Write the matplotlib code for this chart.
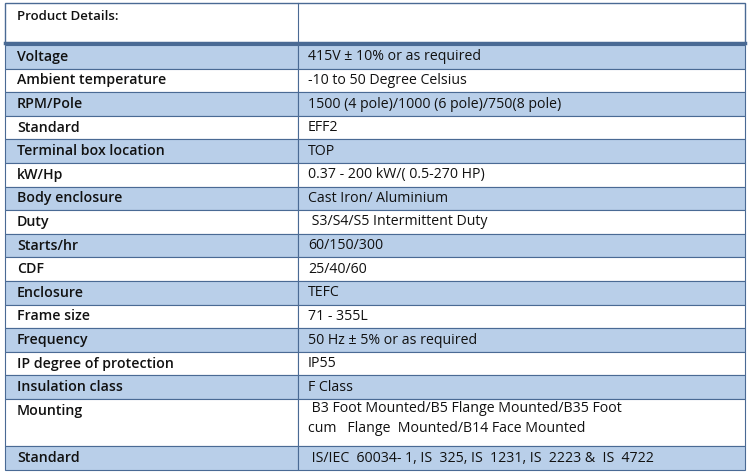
import matplotlib.pyplot as plt
from matplotlib.patches import Rectangle

header = "Product Details:"
labels = ["Voltage", "Ambient temperature", "RPM/Pole", "Standard", "Terminal box location",
          "kW/Hp", "Body enclosure", "Duty", "Starts/hr", "CDF", "Enclosure", "Frame size",
          "Frequency", "IP degree of protection", "Insulation class", "Mounting", "Standard"]
values = ["415V ± 10% or as required", "-10 to 50 Degree Celsius",
          "1500 (4 pole)/1000 (6 pole)/750(8 pole)", "EFF2", "TOP",
          "0.37 - 200 kW/( 0.5-270 HP)", "Cast Iron/ Aluminium", " S3/S4/S5 Intermittent Duty",
          "60/150/300", "25/40/60", "TEFC", "71 - 355L", "50 Hz ± 5% or as required", "IP55",
          "F Class", " B3 Foot Mounted/B5 Flange Mounted/B35 Foot\ncum   Flange  Mounted/B14 Face Mounted",
          " IS/IEC  60034- 1, IS  325, IS  1231, IS  2223 &  IS  4722"]
row_lines = [1] * 15 + [2, 1]

plt.rcParams['font.family'] = ['Open Sans', 'DejaVu Sans']
fig = plt.figure(figsize=(7.5, 4.76), dpi=100)
ax = fig.add_axes([0, 0, 1, 1])
ax.set_xlim(0, 750)
ax.set_ylim(476, 0)
ax.axis('off')

x0, xm, x1 = 5, 298, 745
line_col = '#4a6a94'
blue = '#b9cfe9'
rh = 23.6
fs = 10.2

# header
ax.add_patch(Rectangle((x0, 3), x1 - x0, 40, facecolor='white', edgecolor=line_col, lw=1))
ax.plot([xm, xm], [3, 43], color=line_col, lw=0.8)
ax.plot([x0, x1], [43, 43], color=line_col, lw=2.5)
ax.text(17, 17, header, fontsize=9.5, fontweight='semibold', va='center', color='#111111')

y = 45
for i, (lab, val, n) in enumerate(zip(labels, values, row_lines)):
    h = rh * n
    fc = blue if i % 2 == 0 else 'white'
    ax.add_patch(Rectangle((x0, y), xm - x0, h, facecolor=fc, edgecolor=line_col, lw=0.8))
    ax.add_patch(Rectangle((xm, y), x1 - xm, h, facecolor=fc, edgecolor=line_col, lw=0.8))
    ax.text(17, y + rh / 2, lab, fontsize=fs, fontweight='semibold', va='center', color='#111111')
    ax.text(308, y + rh / 2 if n == 1 else y + 2, val, fontsize=fs,
            va='center' if n == 1 else 'top', color='#111111', linespacing=1.45)
    y += h

fig.savefig('out.png', dpi=100)
